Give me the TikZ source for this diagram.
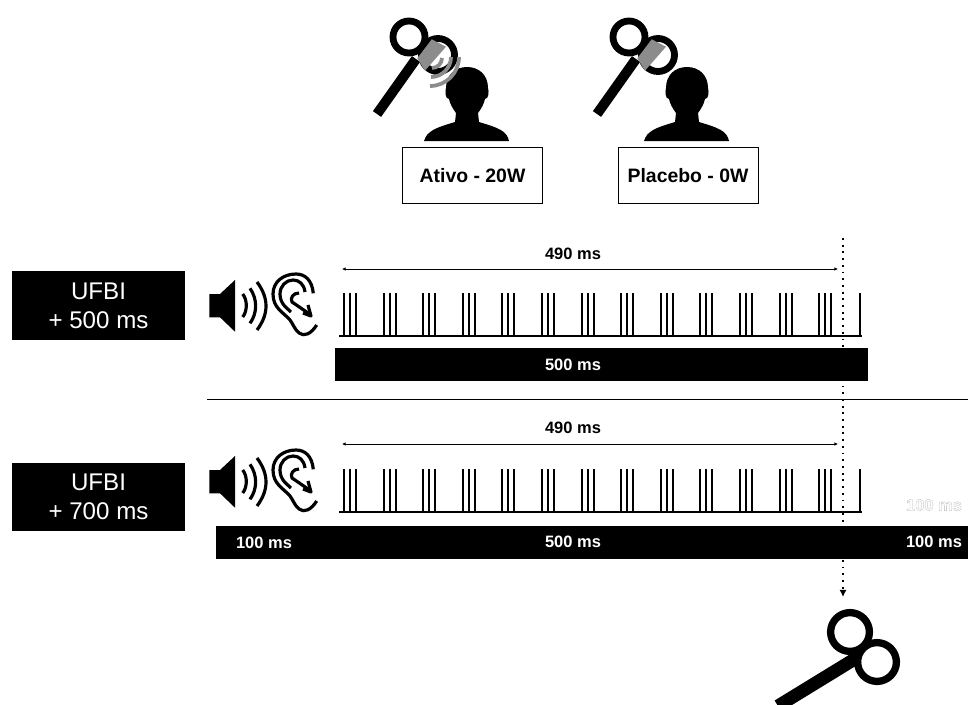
\documentclass[tikz,border=0pt]{standalone}
\usepackage{fontspec}
\setmainfont{Liberation Sans}
\usepackage{tikz}
\usetikzlibrary{arrows.meta, positioning}

\begin{document}
\begin{tikzpicture}[
	x=0.85pt, y=-0.85pt,
	every node/.style={font=\bfseries\fontsize{14}{16}\selectfont},
	%% Node styles
	group/.style={rectangle, draw=black, line width=0.7pt, minimum width=119pt,
		minimum height=48pt, align=center, font=\bfseries\fontsize{16.5}{18}\selectfont},
	ufbi/.style={rectangle, fill=black, text=white, minimum width=147pt,
		minimum height=58.5pt, inner sep=0pt, align=center,
		font=\fontsize{20.5}{24.6}\selectfont},
	bar/.style={rectangle, fill=black, text=white, inner sep=0pt, minimum height=28pt},
	barlabel/.style={text=white, inner sep=0pt},
	%% Line styles
	span/.style={{Latex[length=3pt,width=3pt]}-{Latex[length=3pt,width=3pt]}, line width=0.7pt},
	trigger/.style={line width=1.6pt, dash pattern=on 1.6pt off 4.1pt,
		-{Latex[length=6pt,width=6pt]}},
	pulse/.style={line width=1.7pt},
	wave/.style={draw=black!45, line width=3.2pt},
	sound/.style={line width=2.7pt, line join=round},
	ring/.style={line width=5.8pt},
	person/.pic={
		\fill (-43,74) .. controls (-40,64) and (-32,61) .. (-12,55)
		-- (-11,46) .. controls (-14,42) and (-17,37) .. (-18,32)
		.. controls (-22,32) and (-22,24) .. (-21,21)
		.. controls (-21,8) and (-12,0) .. (0,0)
		.. controls (12,0) and (21,8) .. (21,21)
		.. controls (22,24) and (22,32) .. (18,32)
		.. controls (17,37) and (14,42) .. (11,46)
		-- (12,55) .. controls (32,61) and (40,64) .. (42,74) -- cycle;
	},
	coil/.pic={
		\draw[ring] (0,0) circle (16);
		\draw[ring] (29,18) circle (16.5);
		\draw[line width=8.5pt] (7,22) -- (-32,77);
		\fill[black!45] (22.7,2.3) -- (37,9.7) -- (16,33.7) -- (8.3,21.3) -- cycle;
	},
	hearing/.pic={
		\fill (-83.7,-42) -- (-73,-42) -- (-58,-56) -- (-58,-4.3) -- (-73,-18.7) -- (-83.7,-18.7) -- cycle;
		\draw[sound] (-50.3,-42) .. controls (-45.5,-36) and (-45.5,-25) .. (-50.3,-19);
		\draw[sound] (-43,-47.7) .. controls (-35.5,-37) and (-35.5,-23) .. (-43,-12.7);
		\draw[sound] (-36,-54) .. controls (-24,-38) and (-24,-22) .. (-36,-6);
		%% ear
		\draw[sound] (20.3,-42.7) .. controls (19,-56) and (12,-62) .. (3,-62)
		.. controls (-10,-62) and (-20,-54) .. (-20,-42)
		.. controls (-20,-28) and (-10,-24) .. (-3,-16)
		.. controls (0,-12) and (2,-6) .. (6,-3)
		.. controls (11,1) and (18,-2) .. (23.7,-11);
		\draw[sound] (12,-44) .. controls (11,-52) and (6,-56) .. (0,-56)
		.. controls (-7,-56) and (-13,-50) .. (-13,-42)
		.. controls (-13,-32) and (-6,-28) .. (-2,-24);
		\draw[sound] (6,-43) .. controls (0,-43) and (-3,-38) .. (-1,-34) -- (18,-21);
		\draw[sound] (15,-31) -- (18,-20) -- (10,-23);
	},
	pulses/.pic={
		\draw[line width=1.1pt] (-4,0) -- (519,0);
		\foreach \i in {0,...,12}
		\foreach \j in {0,6,12}
		\draw[pulse] ({1+39.6*\i+\j},0) -- ++(0,-43);
		\draw[pulse] (517,0) -- ++(0,-43);
	},
	]
	\useasboundingbox (0,0) rectangle (968,704);

	%% Coils and subjects (top)
	\pic at (409,37) {coil};
	\pic at (467,67) {person};
	\draw[wave] (430,86) arc[start angle=90, end angle=0, radius=29];
	\draw[wave] (431,77) arc[start angle=90, end angle=0, radius=20];
	\draw[wave] (432,68) arc[start angle=90, end angle=0, radius=10];
	\pic at (629,37) {coil};
	\pic at (687,67) {person};

	\node[group] (ativo) at (472.5,175.5) {Ativo - 20W};
	\node[group, right=63.5pt of ativo] (placebo) {Placebo - 0W};

	%% Trigger line goes first, bars lie over it
	\coordinate (trigtop) at (843,238);
	\coordinate (trigend) at (843,597);
	\draw[trigger] (trigtop) -- (trigend);

	%% Row 1
	\node[ufbi] (ufbiA) at (98.5,305.5) {UFBI\\+ 500 ms};
	\pic at (293,336) {hearing};
	\pic at (343,336) {pulses};
	\coordinate (spanAl) at (342,269);
	\coordinate (spanAr) at (838,269);
	\draw[span] (spanAl) -- (spanAr);
	\node (spanAtxt) at (573,254) {490 ms};
	\node[bar, minimum width=453pt] (barA) at (601.5,364.5) {};
	\node[barlabel] (barAtxt) at (573,365) {500 ms};

	\coordinate (sepl) at (207,399);
	\coordinate (sepr) at (968,399);
	\draw[line width=0.8pt] (sepl) -- (sepr);

	%% Row 2
	\node[ufbi] (ufbiB) at (98.5,497) {UFBI\\+ 700 ms};
	\pic at (293,512) {hearing};
	\pic at (343,512) {pulses};
	\coordinate (spanBl) at (342,444);
	\coordinate (spanBr) at (838,444);
	\draw[span] (spanBl) -- (spanBr);
	\node (spanBtxt) at (573,428) {490 ms};
	\node[bar, minimum width=640pt] (barB) at (592.5,542.5) {};
	\node[barlabel] (barBtxt) at (573,541.5) {500 ms};
	\node[barlabel] (barBl) at (264,543) {100 ms};
	\node[barlabel] (barBr) at (934,542) {100 ms};
	\node[inner sep=0pt] (ghost) at (934,505) {\special{pdf:code 1 Tr 0.25 w 0.72 G}100 ms\special{pdf:code 0 Tr 0 G}};

	%% Coil (bottom)
	\draw[line width=6.2pt] (850,632) circle (19.4);
	\draw[line width=6.2pt] (877,662) circle (19.4);
	\draw[line width=11pt] (858,657) -- (778,706);
\end{tikzpicture}
\end{document}
